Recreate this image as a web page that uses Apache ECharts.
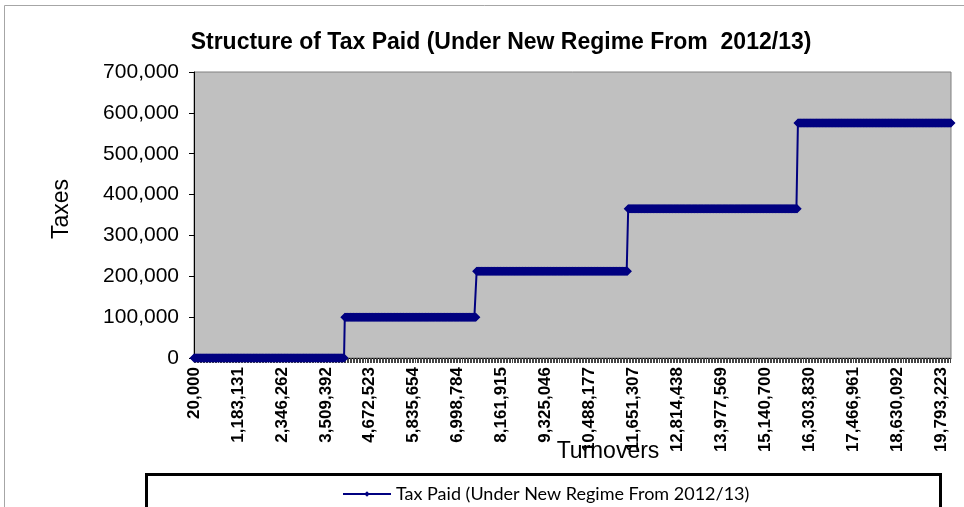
<!DOCTYPE html>
<html>
<head>
<meta charset="utf-8">
<script src="https://cdn.jsdelivr.net/npm/echarts@6/dist/echarts.min.js"></script>
<style>
html,body{margin:0;padding:0;background:#fff;}
#chart{width:964px;height:507px;}
</style>
</head>
<body>
<div id="chart"></div>
<script>
// ---- Data ----
const chartTitle = 'Structure of Tax Paid (Under New Regime From  2012/13)';
const seriesName = 'Tax Paid (Under New Regime From 2012/13)';
// turnover categories: evenly spaced from 20,000; a label every 58 categories
const turnoverStart = 20000;
const turnoverLabelStep = 1163130.765;
const pointsPerLabel = 58;
const pointCount = 1000;
const xTickLabels = ['20,000','1,183,131','2,346,262','3,509,392','4,672,523','5,835,654',
  '6,998,784','8,161,915','9,325,046','10,488,177','11,651,307','12,814,438','13,977,569',
  '15,140,700','16,303,830','17,466,961','18,630,092','19,793,223'];
// tax brackets: turnover thresholds and the tax paid above each
const turnoverThresholds = [4000000, 7500000, 11500000, 16000000];
const taxLevels = [0, 100000, 212500, 365000, 575000];
const yTicks = [0, 100000, 200000, 300000, 400000, 500000, 600000, 700000];

// ---- build category axis & series from the arrays above ----
const turnovers = [];
for (let i = 0; i < pointCount; i++) {
  turnovers.push(Math.round(turnoverStart + i * turnoverLabelStep / pointsPerLabel));
}
const taxes = turnovers.map(t => {
  let k = 0;
  while (k < turnoverThresholds.length && t >= turnoverThresholds[k]) k++;
  return taxLevels[k];
});

const chart = echarts.init(document.getElementById('chart'), null, {renderer: 'canvas'});
const fmt = v => Number(v).toLocaleString('en-US');

chart.setOption({
  animation: false,
  backgroundColor: '#ffffff',
  title: {
    text: chartTitle,
    left: 496, top: 26, textAlign: 'center',
    textStyle: {fontFamily: 'Arial, Liberation Sans', fontWeight: 'bold', fontSize: 23, color: '#000'}
  },
  grid: {
    left: 194, right: 13, top: 72, bottom: 149,
    show: true, backgroundColor: '#C0C0C0', borderColor: '#808080', borderWidth: 1
  },
  legend: {
    data: [seriesName],
    left: 337, top: 480, z: 10,
    itemWidth: 48, itemHeight: 7, itemGap: 6,
    textStyle: {fontFamily: 'Lato, Open Sans', fontSize: 18, color: '#000'}
  },
  xAxis: {
    type: 'category',
    data: turnovers.map(String),
    boundaryGap: false,
    axisLine: {lineStyle: {color: '#000', width: 1}},
    axisTick: {show: true, interval: 1, length: 5, lineStyle: {color: '#444', width: 1}},
    axisLabel: {
      interval: pointsPerLabel - 1, rotate: 90, margin: 9,
      fontFamily: 'Arial, Liberation Sans', fontWeight: 'bold', fontSize: 17, color: '#000',
      formatter: (v, idx) => xTickLabels[Math.round(idx / pointsPerLabel)] || ''
    },
    splitLine: {show: false}
  },
  yAxis: {
    type: 'value',
    min: yTicks[0], max: yTicks[yTicks.length - 1], interval: yTicks[1] - yTicks[0],
    axisLine: {show: true, lineStyle: {color: '#000'}},
    axisTick: {show: true, length: 5, lineStyle: {color: '#000'}},
    axisLabel: {margin: 15, fontFamily: 'Arial, Liberation Sans', fontSize: 21, color: '#000', formatter: fmt},
    splitLine: {show: false}
  },
  series: [{
    name: seriesName,
    type: 'line',
    data: taxes,
    symbol: 'diamond',
    symbolSize: 9,
    showSymbol: true,
    showAllSymbol: true,
    lineStyle: {color: '#000080', width: 2},
    itemStyle: {color: '#000080', borderWidth: 0}
  }],
  graphic: [
    {type: 'rect', z: -10, silent: true,
     shape: {x: 4.5, y: 5.5, width: 990, height: 520},
     style: {fill: 'none', stroke: '#a6a6a6', lineWidth: 1}},
    {type: 'rect', z: 1, silent: true,
     shape: {x: 146.5, y: 474.5, width: 794, height: 45},
     style: {fill: '#fff', stroke: '#000', lineWidth: 3}},
    {type: 'text', z: 5, x: 62, y: 209, rotation: Math.PI / 2,
     style: {text: 'Taxes', font: '23px Arial, Liberation Sans', fill: '#000', textAlign: 'center', textVerticalAlign: 'middle'}},
    {type: 'text', z: 5, x: 608, y: 452,
     style: {text: 'Turnovers', font: '23px Arial, Liberation Sans', fill: '#000', textAlign: 'center', textVerticalAlign: 'middle'}}
  ]
});
</script>
</body>
</html>
